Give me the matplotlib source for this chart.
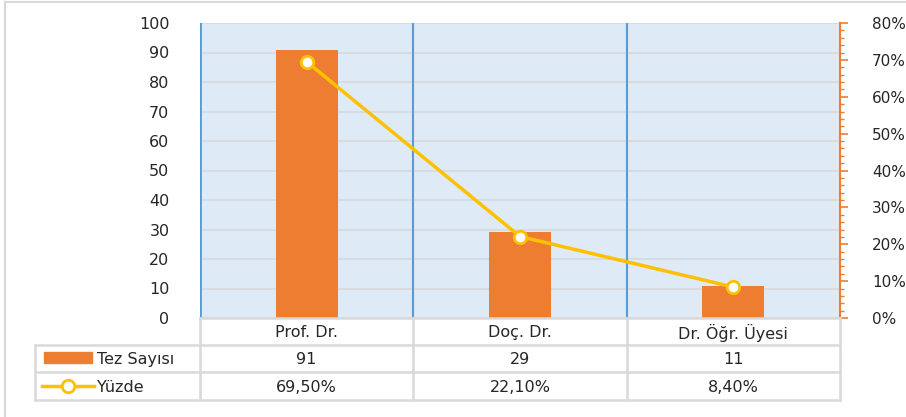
import matplotlib.pyplot as plt
from matplotlib.patches import Rectangle
from matplotlib.ticker import MultipleLocator, FuncFormatter
import numpy as np

categories = ["Prof. Dr.", "Doç. Dr.", "Dr. Öğr. Üyesi"]
tez_sayisi = [91, 29, 11]
yuzde = [0.695, 0.221, 0.084]
yuzde_labels = ["69,50%", "22,10%", "8,40%"]
series_names = ["Tez Sayısı", "Yüzde"]

W, H = 906, 417
orange = "#ED7D31"
yellow = "#FFC000"
grid = "#D9D9D9"
blue = "#5B9BD5"
bg = "#DEEBF7"
txt = "#262626"

plt.rcParams['font.family'] = ['DejaVu Sans']
fig = plt.figure(figsize=(W / 100, H / 100), dpi=100)

# plot area in pixels
x0, x1, ytop, ybot = 200, 840, 23, 318
ax = fig.add_axes([x0 / W, 1 - ybot / H, (x1 - x0) / W, (ybot - ytop) / H])
ax.set_facecolor(bg)
n = len(categories)
x = np.arange(n)
ax.bar(x, tez_sayisi, width=0.29, color=orange, zorder=3)
ax.set_xlim(-0.5, n - 0.5)
ax.set_ylim(0, 100)
ax.yaxis.set_major_locator(MultipleLocator(10))
ax.yaxis.grid(True, color=grid, linewidth=1.2, zorder=0)
ax.set_axisbelow(True)
ax.tick_params(axis='y', length=0, pad=22, labelsize=11.5, labelcolor=txt)
ax.set_xticks([])
for i in range(n):
    ax.axvline(i - 0.5, color=blue, linewidth=2 if i == 0 else 1.5, zorder=2)
for s in ["top", "bottom", "right", "left"]:
    ax.spines[s].set_visible(False)

ax2 = ax.twinx()
ax2.plot(x, yuzde, color=yellow, linewidth=2.5, marker="o", markersize=9,
         markerfacecolor="white", markeredgecolor=yellow, markeredgewidth=2, zorder=5)
ax2.set_ylim(0, 0.8)
ax2.yaxis.set_major_locator(MultipleLocator(0.1))
ax2.yaxis.set_minor_locator(MultipleLocator(0.02))
ax2.yaxis.set_major_formatter(FuncFormatter(lambda v, p: f"{v * 100:.0f}%"))
ax2.tick_params(axis='y', which='major', length=6, width=1.2, color=orange,
                labelsize=11, labelcolor=txt, pad=17)
ax2.tick_params(axis='y', which='minor', length=3, width=1, color=orange)
for s in ["top", "bottom", "left"]:
    ax2.spines[s].set_visible(False)
ax2.spines["right"].set_color(orange)
ax2.spines["right"].set_linewidth(1.5)

# data table under the chart, drawn in pixel coordinates
ov = fig.add_axes([0, 0, 1, 1], facecolor="none")
ov.set_xlim(0, W)
ov.set_ylim(H, 0)
ov.axis("off")
# outer chart frame (only top and left edges are visible in the crop)
ov.plot([5, W], [2, 2], color=grid, linewidth=1.5)
ov.plot([5, 5], [2, H], color=grid, linewidth=1.5)

col_edges = np.linspace(x0, x1, n + 1)
rows = [318, 345, 372, 400]
tl = 35
lc = dict(color=grid, linewidth=1.8)
ov.plot([x0, x1], [rows[0], rows[0]], **lc)
for yy in rows[1:]:
    ov.plot([tl, x1], [yy, yy], **lc)
ov.plot([tl, tl], [rows[1], rows[3]], **lc)
for xe in col_edges:
    ov.plot([xe, xe], [rows[0], rows[3]], **lc)

centers = (col_edges[:-1] + col_edges[1:]) / 2
fs = 11.5
for i in range(n):
    ov.text(centers[i], (rows[0] + rows[1]) / 2 + 1, categories[i], ha="center", va="center", fontsize=fs, color=txt)
    ov.text(centers[i], (rows[1] + rows[2]) / 2 + 1, str(tez_sayisi[i]), ha="center", va="center", fontsize=fs, color=txt)
    ov.text(centers[i], (rows[2] + rows[3]) / 2 + 1, yuzde_labels[i], ha="center", va="center", fontsize=fs, color=txt)

# legend keys
ov.add_patch(Rectangle((44, 352), 48, 11, color=orange))
ov.text(97, (rows[1] + rows[2]) / 2 + 1, series_names[0], ha="left", va="center", fontsize=fs, color=txt)
ov.plot([42, 94], [386, 386], color=yellow, linewidth=2.5)
ov.plot([68], [386], marker="o", markersize=9, markerfacecolor="white", markeredgecolor=yellow, markeredgewidth=2)
ov.text(97, (rows[2] + rows[3]) / 2 + 1, series_names[1], ha="left", va="center", fontsize=fs, color=txt)

fig.savefig("out.png", dpi=100)
